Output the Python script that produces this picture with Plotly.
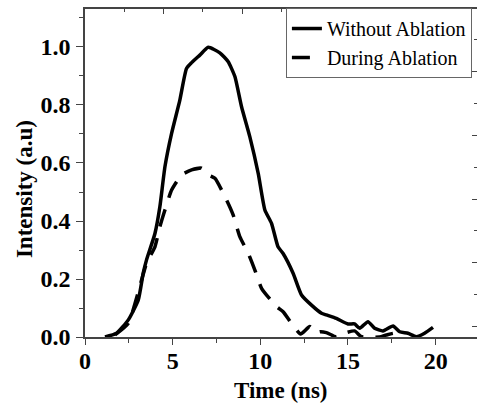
import plotly.graph_objects as go

# ---- data ----
t_without = [1.14, 1.8, 2.47, 3.04, 3.32, 3.51, 3.99, 4.27, 4.56, 4.94, 5.41, 5.79, 6.08, 6.55,
             7.03, 7.69, 8.17, 8.55, 8.93, 9.40, 9.88, 10.26, 10.64, 11.01, 11.3, 11.87, 12.35,
             12.92, 13.49, 13.77, 14.34, 15.0, 15.38, 15.67, 16.14, 16.52, 17.0, 17.57, 17.95,
             18.42, 18.9, 19.37, 19.85]
i_without = [0.0, 0.013, 0.059, 0.128, 0.22, 0.266, 0.357, 0.449, 0.587, 0.702, 0.817, 0.926,
             0.946, 0.972, 0.999, 0.980, 0.949, 0.898, 0.794, 0.691, 0.564, 0.438, 0.392, 0.311,
             0.288, 0.22, 0.145, 0.11, 0.082, 0.076, 0.064, 0.045, 0.045, 0.03, 0.053, 0.03,
             0.021, 0.038, 0.018, 0.013, 0.001, 0.013, 0.033]

t_during = [1.71, 2.47, 3.51, 3.99, 4.27, 4.56, 4.94, 5.51, 6.08, 6.65, 7.03, 7.41, 8.08, 8.45,
            8.83, 9.31, 9.69, 10.07, 10.92, 11.3, 11.78, 12.3, 12.82, 13.2, 13.39, 13.77, 14.34,
            14.91, 15.38, 15.77, 16.8, 17.19, 17.66, 17.85]
i_during = [0.007, 0.047, 0.254, 0.311, 0.38, 0.438, 0.507, 0.559, 0.576, 0.582, 0.559, 0.547,
            0.472, 0.421, 0.346, 0.289, 0.231, 0.168, 0.105, 0.087, 0.047, 0.01, 0.036, 0.013,
            0.018, 0.015, 0.0, 0.015, 0.021, 0.001, 0.0, 0.007, 0.013, 0.0]

x_ticks = [0, 5, 10, 15, 20]
y_ticks = [0.0, 0.2, 0.4, 0.6, 0.8, 1.0]
y_tick_text = ["0.0", "0.2", "0.4", "0.6", "0.8", "1.0"]

SERIF = "Liberation Serif"
AXC = "#444444"

fig = go.Figure()
fig.add_trace(go.Scatter(x=t_without, y=i_without, mode="lines", name="Without Ablation",
                         line=dict(color="black", width=3.5, shape="spline", smoothing=0.5)))
fig.add_trace(go.Scatter(x=t_during, y=i_during, mode="lines", name="During Ablation",
                         line=dict(color="black", width=3.5, dash="18px,12px",
                                   shape="spline", smoothing=0.5)))
# empty helper trace so the top / right frame axes get drawn
fig.add_trace(go.Scatter(x=[], y=[], xaxis="x2", yaxis="y2", showlegend=False,
                         hoverinfo="skip"))

fig.update_layout(
    width=477, height=405,
    margin=dict(l=85, r=0, t=9, b=68),
    paper_bgcolor="white", plot_bgcolor="white",
    font=dict(family=SERIF, color="black"),
    showlegend=True,
    legend=dict(x=0.987, y=1.003, xanchor="right", yanchor="top",
                bgcolor="white", bordercolor="#666666", borderwidth=1,
                font=dict(family=SERIF, size=20, color="black"),
                tracegroupgap=0, itemwidth=30),
    xaxis=dict(range=[0, 22.36], showgrid=False, zeroline=False, automargin=False,
               showline=True, linecolor=AXC, linewidth=1.5,
               tickmode="array", tickvals=x_ticks, ticks="outside", ticklen=6,
               tickcolor=AXC, tickwidth=1.2,
               minor=dict(dtick=2.5, ticks="outside", ticklen=4, tickcolor=AXC),
               tickfont=dict(family=SERIF, size=24, weight="bold"),
               ticklabelstandoff=-5),
    yaxis=dict(range=[0, 1.131], showgrid=False, zeroline=False, automargin=False,
               showline=True, linecolor=AXC, linewidth=1.5,
               tickmode="array", tickvals=y_ticks, ticktext=y_tick_text,
               ticks="outside", ticklen=7, tickcolor=AXC, tickwidth=1.2,
               minor=dict(dtick=0.1, ticks="outside", ticklen=4, tickcolor=AXC),
               tickfont=dict(family=SERIF, size=24, weight="bold"),
               ticklabelstandoff=1),
    xaxis2=dict(overlaying="x", side="top", anchor="y", range=[0, 9.97], automargin=False,
                showgrid=False, zeroline=False, showline=True, linecolor=AXC, linewidth=1.5,
                dtick=2, tick0=0, ticks="inside", ticklen=5, tickcolor=AXC,
                minor=dict(dtick=1, ticks="inside", ticklen=3, tickcolor=AXC),
                showticklabels=False),
    yaxis2=dict(overlaying="y", side="right", anchor="x", range=[-0.329, 9.97], automargin=False,
                showgrid=False, zeroline=False, showline=False,
                dtick=2, tick0=0, ticks="inside", ticklen=5, tickcolor=AXC,
                minor=dict(dtick=1, ticks="inside", ticklen=3, tickcolor=AXC),
                showticklabels=False),
    annotations=[
        dict(text="<b>Time (ns)</b>", xref="paper", yref="paper", x=0.5, y=-0.1646,
             xanchor="center", yanchor="middle", showarrow=False,
             font=dict(family=SERIF, size=23, color="black")),
        dict(text="<b>Intensity (a.u)</b>", xref="paper", yref="paper", x=-0.1556, y=0.451,
             xanchor="center", yanchor="middle", showarrow=False, textangle=-90,
             font=dict(family=SERIF, size=23, color="black")),
    ],
)

fig.write_html(
    "out.html",
    config={"displayModeBar": False},
    post_script="document.body.style.margin='0';"
                "document.body.style.overflow='hidden';"
                "document.documentElement.style.overflow='hidden';",
)
